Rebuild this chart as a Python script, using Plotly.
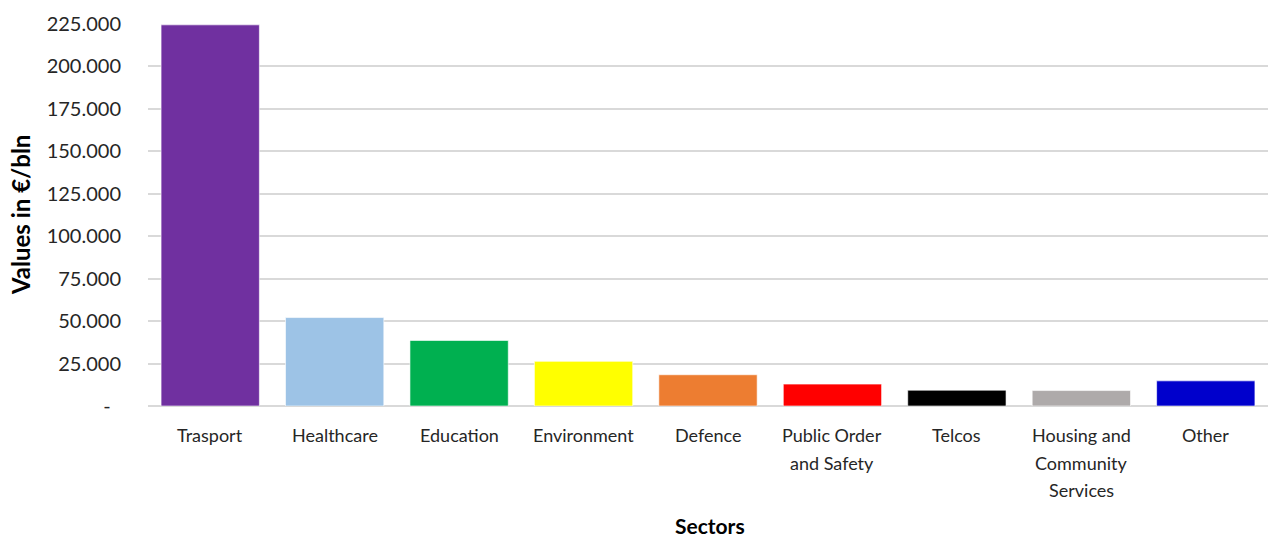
import plotly.graph_objects as go

categories = ["Trasport", "Healthcare", "Education", "Environment", "Defence",
              "Public Order<br>and Safety", "Telcos",
              "Housing and<br>Community<br>Services", "Other"]
values = [224.5, 52.1, 38.6, 26.3, 18.4, 12.9, 9.3, 9.1, 14.8]
colors = ["#7030A0", "#9DC3E6", "#00B050", "#FFFF00", "#ED7D31",
          "#FF0000", "#000000", "#AEAAAA", "#0000CC"]
tick_vals = [0, 25, 50, 75, 100, 125, 150, 175, 200, 225]
tick_text = ["-\u00a0\u00a0", "25.000", "50.000", "75.000", "100.000", "125.000",
             "150.000", "175.000", "200.000", "225.000"]

W, H = 1268, 537
ML, MR, MT, MB = 148, 0, 24, 131
PH = H - MT - MB  # plot height in px
PW = W - ML - MR
FONT = "Lato, 'Open Sans', sans-serif"
LABEL_Y0, LABEL_DY = 435, 27.5  # pixel centre of first label line, line pitch

fig = go.Figure(go.Bar(
    x=categories, y=values,
    marker=dict(color=colors, line=dict(color="rgba(255,255,255,0.6)", width=1)),
))

annotations = []
# category labels (multi-line, with the reference's wider line pitch)
for cat in categories:
    for i, line in enumerate(cat.split("<br>")):
        annotations.append(dict(
            text=line, x=cat, xref="x",
            y=(406 - (LABEL_Y0 + LABEL_DY * i)) / PH, yref="paper",
            showarrow=False, xanchor="center", yanchor="middle",
            font=dict(size=18, color="#262626", family=FONT),
        ))

annotations += [
    dict(text="<b>Sectors</b>", x=(710 - ML) / PW, y=-(525 - 406) / PH,
         xref="paper", yref="paper",
         showarrow=False, xanchor="center", yanchor="middle",
         font=dict(size=21, color="#000000", family=FONT)),
    dict(text="<b>Values in €/bln</b>", x=(20 - ML) / PW, y=(406 - 215) / PH,
         xref="paper", yref="paper", textangle=-90,
         showarrow=False, xanchor="center", yanchor="middle",
         font=dict(size=24, color="#000000", family=FONT)),
]

fig.update_layout(
    width=W, height=H,
    margin=dict(l=ML, r=MR, t=MT, b=MB),
    paper_bgcolor="white", plot_bgcolor="white",
    bargap=0.21,
    showlegend=False,
    font=dict(family=FONT, size=18, color="#262626"),
    xaxis=dict(showgrid=False, showticklabels=False, ticks="", showline=False),
    yaxis=dict(range=[0, 225], tickvals=tick_vals, ticktext=tick_text,
               showgrid=True, gridcolor="#D9D9D9", gridwidth=1.5,
               zeroline=True, zerolinecolor="#D9D9D9", zerolinewidth=2,
               ticks="outside", ticklen=22, tickcolor="rgba(0,0,0,0)",
               showline=False, tickfont=dict(size=20, color="#262626")),
    annotations=annotations,
)

fig.write_html(
    "out.html",
    config={"displayModeBar": False},
    post_script="document.body.style.margin='0px';"
                "document.documentElement.style.overflow='hidden';",
)
